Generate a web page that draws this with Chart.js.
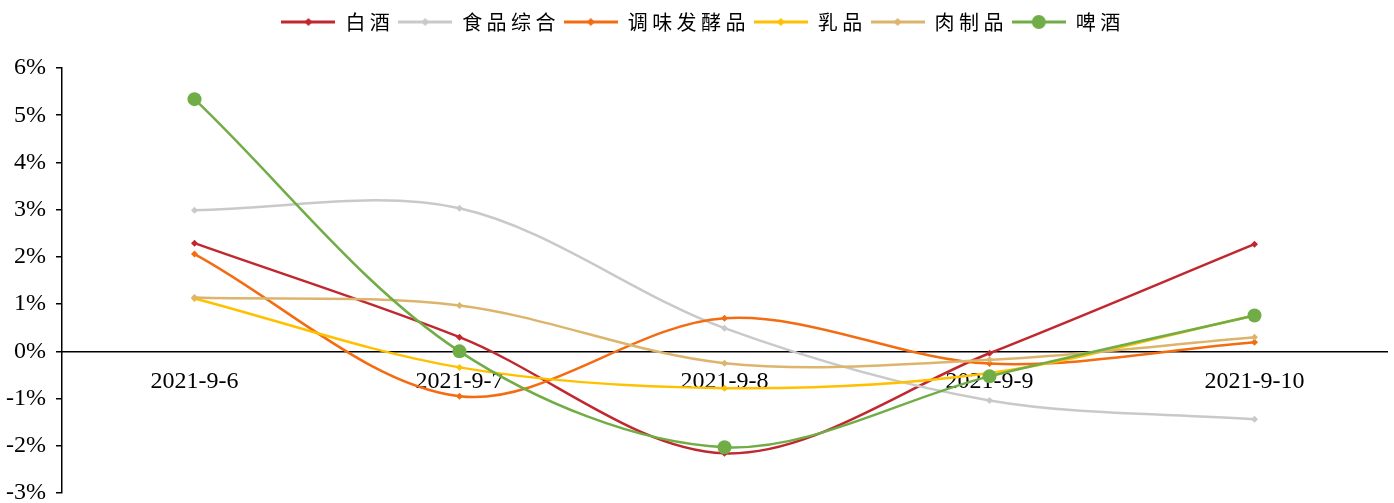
<!DOCTYPE html>
<html>
<head>
<meta charset="utf-8">
<script src="https://cdn.jsdelivr.net/npm/chart.js@4/dist/chart.umd.min.js"></script>
<style>
  html, body { margin: 0; padding: 0; background: #fff; }
  #container { width: 1394px; height: 503px; }
</style>
</head>
<body>
<div id="container"><canvas id="myChart"></canvas></div>
<script>
const dates = ["2021-9-6", "2021-9-7", "2021-9-8", "2021-9-9", "2021-9-10"];
const baijiu = [2.29, 0.30, -2.16, -0.04, 2.27];
const shipinZonghe = [2.99, 3.03, 0.49, -1.04, -1.44];
const tiaowei = [2.06, -0.95, 0.70, -0.26, 0.19];
const rupin = [1.12, -0.34, -0.78, -0.46, 0.76];
const rouzhipin = [1.14, 0.97, -0.25, -0.18, 0.30];
const pijiu = [5.34, 0.00, -2.03, -0.53, 0.76];
const yMin = -3;
const yMax = 6;

const seriesNames = ["白酒", "食品综合", "调味发酵品", "乳品", "肉制品", "啤酒"];
const seriesData = [baijiu, shipinZonghe, tiaowei, rupin, rouzhipin, pijiu];
const seriesColors = ["#C0282F", "#C9C9C9", "#F36C12", "#FFC000", "#DDB46C", "#70AD47"];

const serif = "'Liberation Serif', 'Times New Roman', serif";

// little line + marker picture used in the legend
function legendMarker(color, round) {
  const c = document.createElement("canvas");
  c.width = 54;
  c.height = 16;
  const g = c.getContext("2d");
  g.strokeStyle = color;
  g.lineWidth = 3;
  g.beginPath();
  g.moveTo(0, 8);
  g.lineTo(54, 8);
  g.stroke();
  g.fillStyle = color;
  g.beginPath();
  if (round) {
    g.arc(27, 8, 7, 0, Math.PI * 2);
  } else {
    g.moveTo(27, 4);
    g.lineTo(31, 8);
    g.lineTo(27, 12);
    g.lineTo(23, 8);
    g.closePath();
  }
  g.fill();
  return c;
}

// legend text is spaced out in the picture, and the plot starts well below it
const legendTweaks = {
  id: "legendTweaks",
  afterInit: function (chart) {
    const legend = chart.legend;
    if (!legend) return;
    ["fit", "draw"].forEach(function (name) {
      const orig = legend[name];
      legend[name] = function () {
        const c = this.ctx;
        c.save();
        c.letterSpacing = "4.4px";
        if (name === "draw") c.translate(7, 0);
        const res = orig.apply(this, arguments);
        c.restore();
        if (name === "fit") this.height = 60;
        return res;
      };
    });
  },
};

const datasets = seriesNames.map(function (name, i) {
  const isBeer = name === "啤酒";
  return {
    label: name,
    data: seriesData[i],
    borderColor: seriesColors[i],
    backgroundColor: seriesColors[i],
    borderWidth: 2.5,
    tension: 0.33,
    pointStyle: isBeer ? "circle" : "rectRot",
    pointRadius: isBeer ? 7 : 3.5,
    pointBorderWidth: 0,
    order: seriesNames.length - i,
  };
});

const ctx = document.getElementById("myChart").getContext("2d");
const myChart = new Chart(ctx, {
  type: "line",
  data: {
    labels: dates,
    datasets: datasets,
  },
  plugins: [legendTweaks],
  options: {
    responsive: true,
    maintainAspectRatio: false,
    animation: false,
    layout: { padding: { top: 8, bottom: 0, left: 0, right: 2 } },
    plugins: {
      tooltip: { enabled: false },
      legend: {
        position: "top",
        labels: {
          usePointStyle: true,
          pointStyleWidth: 54,
          padding: 4,
          color: "#000",
          font: { family: "'Noto Sans CJK SC', sans-serif", size: 20 },
          sort: function (a, b) {
            return a.datasetIndex - b.datasetIndex;
          },
          generateLabels: function (chart) {
            const items = Chart.defaults.plugins.legend.labels.generateLabels(chart);
            items.forEach(function (item) {
              const color = seriesColors[item.datasetIndex];
              item.pointStyle = legendMarker(color, seriesNames[item.datasetIndex] === "啤酒");
            });
            return items;
          },
        },
      },
    },
    scales: {
      x: {
        position: { y: 0 },
        offset: true,
        afterFit: function (scale) {
          scale.paddingLeft = 0;
          scale.paddingRight = 0;
        },
        grid: { display: false, drawTicks: false },
        border: { display: true, color: "#000", width: 1.5 },
        ticks: {
          padding: 16,
          color: "#000",
          maxRotation: 0,
          font: { family: serif, size: 24 },
        },
      },
      y: {
        min: yMin,
        max: yMax,
        afterFit: function (scale) {
          scale.width = 62;
          scale.paddingTop = 0;
          scale.paddingBottom = 10;
        },
        grid: { drawOnChartArea: false, drawTicks: true, tickLength: 6, color: "#000", lineWidth: 1.5 },
        border: { display: true, color: "#000", width: 1.5 },
        ticks: {
          stepSize: 1,
          padding: 10,
          color: "#000",
          font: { family: serif, size: 24 },
          callback: function (value) {
            return value + "%";
          },
        },
      },
    },
  },
});
</script>
</body>
</html>
